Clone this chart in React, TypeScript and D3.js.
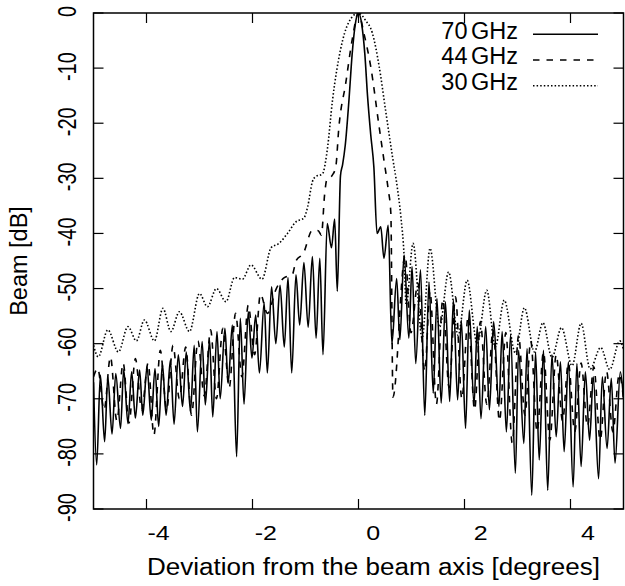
import React from 'react';
import * as d3 from 'd3';

const X_TICKS = [-4, -2, 0, 2, 4];
const X_TICK_LABELS = ['-4', '-2', '0', '2', '4'];
const Y_TICKS = [0, -10, -20, -30, -40, -50, -60, -70, -80, -90];
const Y_TICK_LABELS = ['0', '-10', '-20', '-30', '-40', '-50', '-60', '-70', '-80', '-90'];
const SERIES_NUM = ['70', '44', '30'];
const SERIES_UNIT = 'GHz';
const X_TITLE = 'Deviation from the beam axis [degrees]';
const Y_TITLE = 'Beam [dB]';

// 70 GHz (solid): sidelobe peaks and nulls
const x70 = [-5.00, -4.94, -4.87, -4.79, -4.73, -4.65, -4.58, -4.49, -4.43, -4.35, -4.28, -4.21, -4.13, -4.07, -3.99, -3.91, -3.84, -3.77, -3.70, -3.63, -3.55, -3.48, -3.40, -3.32, -3.25, -3.17, -3.10, -3.04, -2.95, -2.89, -2.81, -2.75, -2.67, -2.61, -2.52, -2.46, -2.38, -2.30, -2.23, -2.16, -2.08, -2.01, -1.94, -1.87, -1.78, -1.72, -1.64, -1.56, -1.48, -1.40, -1.33, -1.26, -1.18, -1.11, -1.03, -0.95, -0.87, -0.80, -0.73, -0.67, -0.59, -0.51, -0.45, -0.40, -0.34, -0.30, -0.25, -0.18, -0.12, -0.06, 0.00, 0.06, 0.12, 0.17, 0.23, 0.29, 0.35, 0.42, 0.48, 0.56, 0.63, 0.72, 0.78, 0.86, 0.95, 1.01, 1.08, 1.17, 1.25, 1.33, 1.41, 1.48, 1.56, 1.64, 1.72, 1.79, 1.87, 1.94, 2.02, 2.09, 2.18, 2.24, 2.31, 2.40, 2.47, 2.55, 2.65, 2.71, 2.79, 2.87, 2.96, 3.02, 3.12, 3.18, 3.27, 3.34, 3.41, 3.49, 3.57, 3.65, 3.73, 3.81, 3.88, 3.96, 4.05, 4.12, 4.20, 4.28, 4.36, 4.43, 4.53, 4.60, 4.69, 4.77, 4.84, 4.94, 5.00];
const db70 = [-67, -82, -65.7, -77.8, -66, -76.4, -65.4, -75.4, -64.7, -74.5, -65.1, -73.5, -64.8, -73, -64.2, -73.9, -64.5, -75, -63.6, -73, -63, -74.6, -62, -71.4, -61.5, -72.4, -60.3, -76, -59.6, -71.1, -59.3, -73.3, -57.8, -70, -57.2, -67.2, -56.6, -80.5, -55.4, -71, -54.2, -62.6, -54.8, -65.3, -52.6, -65.3, -49.7, -60, -49.4, -60.6, -48, -65.3, -47.5, -56.6, -45.3, -57, -44.2, -59, -44.5, -62, -38.2, -42.6, -37.4, -50.5, -29.5, -27.5, -24, -15.8, -7.5, -2, 0, -2, -7.5, -15, -22, -28, -40, -38.8, -44.5, -38.5, -60, -48.2, -59.3, -43.9, -59, -46, -63.6, -46.6, -73, -48.8, -69, -51.8, -70.8, -52.4, -70.5, -52.1, -70.2, -55.7, -75.4, -53.9, -71.1, -56.9, -73.6, -56.9, -72, -56, -71.4, -57.8, -76, -58.4, -83.5, -61.2, -78.1, -60.9, -87.5, -61.5, -81.1, -61.2, -86.6, -62, -76.9, -63.3, -79.6, -63.3, -86, -63.6, -82.3, -65.1, -77.5, -66, -84.5, -66, -79, -66.3, -81.7, -65.1, -70];

// 44 GHz (dashed)
const x44 = [-5.00, -4.92, -4.80, -4.68, -4.56, -4.44, -4.33, -4.21, -4.09, -3.97, -3.86, -3.74, -3.62, -3.50, -3.38, -3.26, -3.15, -3.03, -2.91, -2.79, -2.68, -2.56, -2.44, -2.32, -2.20, -2.08, -1.96, -1.85, -1.72, -1.55, -1.40, -1.25, -1.18, -1.04, -0.87, -0.76, -0.70, -0.64, -0.60, -0.50, -0.43, -0.37, -0.24, -0.12, 0.00, 0.10, 0.23, 0.39, 0.48, 0.56, 0.61, 0.65, 0.88, 0.99, 1.12, 1.25, 1.35, 1.47, 1.59, 1.71, 1.83, 1.95, 2.07, 2.19, 2.30, 2.42, 2.54, 2.66, 2.78, 2.90, 3.02, 3.14, 3.25, 3.37, 3.49, 3.61, 3.73, 3.85, 3.96, 4.08, 4.20, 4.32, 4.44, 4.56, 4.68, 4.80, 4.92, 5.00];
const db44 = [-66, -64.5, -72, -62.4, -74, -63.5, -74.4, -62.7, -72, -63.5, -76.6, -61.2, -72, -60.3, -70, -60.6, -73, -59.5, -69.5, -57.5, -70, -57.2, -68, -54.5, -66, -53, -62, -51, -54.5, -50, -48, -47.5, -45, -43.6, -39.4, -39.5, -40.3, -33, -30.3, -29.5, -28, -20.7, -12.7, -4.9, 0, -3.6, -9.7, -20.7, -26.7, -32, -36.3, -69.7, -44, -58, -49, -65, -50.5, -71, -52, -68, -51.5, -70, -55, -72, -56, -71, -57.5, -74, -58, -78, -58.5, -73, -59.5, -76, -61.5, -77.5, -62, -74, -63.5, -76, -63.5, -75, -64.2, -77.5, -65, -76, -65.5, -70];

// 30 GHz (dotted)
const x30 = [-5.00, -4.91, -4.73, -4.53, -4.35, -4.19, -4.04, -3.85, -3.69, -3.54, -3.38, -3.19, -3.00, -2.85, -2.68, -2.50, -2.34, -2.19, -2.03, -1.82, -1.65, -1.50, -1.34, -1.18, -1.03, -0.96, -0.87, -0.81, -0.68, -0.59, -0.49, -0.34, -0.18, 0.00, 0.13, 0.26, 0.39, 0.51, 0.64, 0.73, 0.80, 0.86, 0.90, 1.03, 1.20, 1.35, 1.53, 1.70, 1.88, 2.05, 2.24, 2.42, 2.58, 2.75, 2.96, 3.13, 3.32, 3.48, 3.65, 3.83, 4.03, 4.20, 4.37, 4.57, 4.74, 4.93, 5.00];
const db30 = [-60.3, -62.4, -57.5, -61.5, -56.9, -59.5, -55.7, -59.5, -53.6, -57.8, -54.2, -57.8, -50.9, -53.3, -50, -52.4, -48, -48.3, -45.7, -48.3, -42.6, -41.8, -40, -37.9, -37.2, -35.2, -30.6, -29.7, -29.2, -24.9, -15.8, -6.7, -1.6, 0, -1.3, -3.6, -9.7, -17.6, -26, -31.5, -37, -44, -53, -41.8, -59, -42.7, -57, -47, -58.5, -48.5, -60, -50.3, -60.6, -52.1, -61.7, -53.5, -61.5, -56.2, -62.5, -57.1, -64, -56.3, -64.6, -60.7, -64.7, -59.5, -61];

const FONT = "'Liberation Sans', Arial, Helvetica, sans-serif";

export default function App() {
  const W = 625, H = 586;
  const L = 93.5, R = 623.5, T = 13, B = 509;
  const x = d3.scaleLinear().domain([-5, 5]).range([L, R]);
  const y = d3.scaleLinear().domain([-90, 0]).range([B, T]);
  const xLab = d3.scaleLinear().domain([-4, 4]).range([158.5, 588]);

  const series = [
    { xs: x70, ys: db70, dash: undefined as string | undefined },
    { xs: x44, ys: db44, dash: '6.5,7' },
    { xs: x30, ys: db30, dash: '1.5,2.1' },
  ];
  const line = d3
    .line<[number, number]>()
    .x((d) => x(d[0]))
    .y((d) => y(d[1]))
    .curve(d3.curveMonotoneX);

  const tickLen = 10;
  return (
    <svg width={W} height={H} style={{ position: 'absolute', left: 0, top: 0, background: '#fff' }} fontFamily={FONT}>
      <rect x={0} y={0} width={W} height={H} fill="#fff" />
      <defs>
        <clipPath id="plot">
          <rect x={L} y={T} width={R - L} height={B - T} />
        </clipPath>
      </defs>
      <g clipPath="url(#plot)">
        {series.map((s, i) => (
          <path
            key={i}
            d={line(s.xs.map((v, j) => [v, s.ys[j]] as [number, number])) || ''}
            fill="none"
            stroke="#000"
            strokeWidth={1.6}
            strokeDasharray={s.dash}
            strokeLinejoin="round"
          />
        ))}
      </g>
      {X_TICKS.map((v) => (
        <g key={'xt' + v}>
          <line x1={x(v)} x2={x(v)} y1={B} y2={B - tickLen} stroke="#000" strokeWidth={1.2} />
          <line x1={x(v)} x2={x(v)} y1={T} y2={T + tickLen} stroke="#000" strokeWidth={1.2} />
        </g>
      ))}
      {Y_TICKS.map((v) => (
        <g key={'yt' + v}>
          <line x1={L} x2={L + tickLen} y1={y(v)} y2={y(v)} stroke="#000" strokeWidth={1.2} />
          <line x1={R} x2={R - tickLen} y1={y(v)} y2={y(v)} stroke="#000" strokeWidth={1.2} />
        </g>
      ))}
      <rect x={L} y={T} width={R - L} height={B - T} fill="none" stroke="#000" strokeWidth={1.5} />
      {X_TICKS.map((v, i) => (
        <text
          key={'xl' + v}
          transform={`translate(${xLab(v)},539.5) scale(1.25,1)`}
          textAnchor="middle"
          fontSize={20}
        >
          {X_TICK_LABELS[i]}
        </text>
      ))}
      {Y_TICKS.map((v, i) => (
        <text
          key={'yl' + v}
          transform={`translate(76,${y(v) - 1.5}) rotate(-90) scale(1,1.25)`}
          textAnchor="middle"
          fontSize={20}
        >
          {Y_TICK_LABELS[i]}
        </text>
      ))}
      <text x={373.5} y={575} textAnchor="middle" fontSize={23} textLength={453} lengthAdjust="spacingAndGlyphs">
        {X_TITLE}
      </text>
      <text transform={`translate(27,261) rotate(-90)`} textAnchor="middle" fontSize={23.5}>
        {Y_TITLE}
      </text>
      {series.map((s, i) => {
        const by = 38.5 + i * 25.8;
        return (
          <g key={'lg' + i}>
            <text x={518} y={by} textAnchor="end" fontSize={23.5}>
              <tspan>{SERIES_NUM[i]}</tspan>
              <tspan dx={3.5}>{SERIES_UNIT}</tspan>
            </text>
            <line x1={533} x2={598} y1={by - 4.3} y2={by - 4.3} stroke="#000" strokeWidth={1.5} strokeDasharray={s.dash} />
          </g>
        );
      })}
    </svg>
  );
}
